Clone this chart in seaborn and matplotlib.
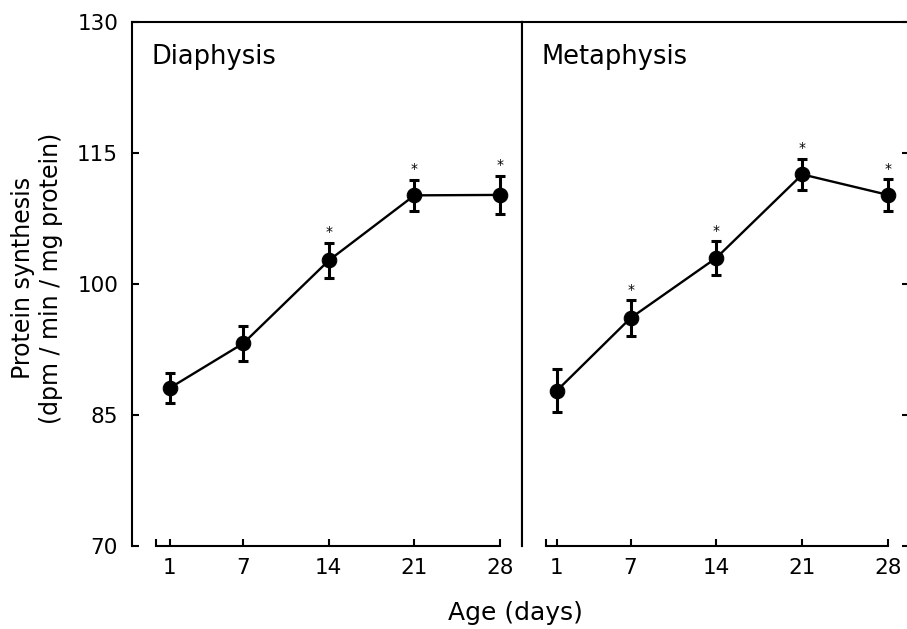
import numpy as np
import matplotlib
matplotlib.use('Agg')
import matplotlib.pyplot as plt
import seaborn as sns

# Data
days = [1, 7, 14, 21, 28]

dia_mean = [88.1, 93.2, 102.7, 110.15, 110.2]
dia_err = [1.75, 2.0, 2.05, 1.8, 2.2]
dia_star = [False, False, True, True, True]

met_mean = [87.8, 96.1, 103.0, 112.55, 110.2]
met_err = [2.45, 2.05, 1.95, 1.8, 1.8]
met_star = [False, True, True, True, True]

panels = ['Diaphysis', 'Metaphysis']
y_ticks = [70, 85, 100, 115, 130]

sns.set_style('ticks')
plt.rcParams['font.family'] = ['DejaVu Sans']
plt.rcParams.update({
    'text.color': 'black', 'axes.labelcolor': 'black',
    'xtick.color': 'black', 'ytick.color': 'black',
    'xtick.direction': 'in', 'ytick.direction': 'in',
    'xtick.bottom': True, 'ytick.left': True,
})

fig = plt.figure(figsize=(9.07, 6.29), dpi=100)

# axes placed by pixel coords of the reference (907 x 629)
W, H = 907, 629
ax1 = fig.add_axes([132 / W, (H - 546) / H, 390 / W, 524 / H])
ax2 = fig.add_axes([522 / W, (H - 546) / H, 387 / W, 524 / H])

setups = [
    (ax1, dia_mean, dia_err, dia_star, panels[0], (-2.1, 29.8), (-0.15, 28)),
    (ax2, met_mean, met_err, met_star, panels[1], (-1.85, 29.7), (0.1, 28)),
]

for ax, mean, err, star, name, xl, xb in setups:
    sns.lineplot(x=days, y=mean, ax=ax, color='black', linewidth=1.7,
                 marker='o', markersize=10.5, markeredgecolor='black')
    ax.errorbar(days, mean, yerr=err, fmt='none', ecolor='black',
                elinewidth=2.2, capsize=3.5, capthick=2.2)
    for d, m, e, s in zip(days, mean, err, star):
        if s:
            ax.annotate('*', xy=(d, m + e), xytext=(0, 4.5), textcoords='offset points',
                        ha='center', va='baseline', fontsize=10)

    ax.set_xlim(*xl)
    ax.set_ylim(70, 130)
    ax.set_xticks(days)
    ax.set_xticklabels([str(d) for d in days])
    ax.set_xticks([xb[0]], minor=True)
    ax.spines['bottom'].set_bounds(*xb)
    for sp in ax.spines.values():
        sp.set_visible(True)
        sp.set_linewidth(1.5)
        sp.set_color('black')
    ax.tick_params(axis='x', which='major', direction='in', length=5, width=1.5,
                   labelsize=15.5, pad=9, bottom=True, top=False)
    ax.tick_params(axis='x', which='minor', direction='in', length=5, width=1.5,
                   bottom=True, top=False)
    ax.text(20 / 390, (546 - 64) / 524, name, transform=ax.transAxes,
            fontsize=18.5, ha='left', va='baseline')
    ax.grid(False)

# left panel: y ticks on the left spine, only the 70 tick on the divider
ax1.set_yticks(y_ticks)
ax1.set_yticklabels([str(v) for v in y_ticks])
ax1.tick_params(axis='y', which='major', direction='in', length=5, width=1.5,
                labelsize=15.5, pad=10, left=True, right=False)
ax1.set_yticks([70], minor=True)
ax1.tick_params(axis='y', which='minor', direction='in', length=5, width=1.5,
                left=False, right=True)

# right panel: ticks on the far (clipped) right spine
ax2.set_yticks(y_ticks)
ax2.set_yticklabels([])
ax2.tick_params(axis='y', which='major', direction='in', length=5, width=1.5,
                left=False, right=True, labelleft=False)
ax2.set_yticks([70], minor=True)
ax2.tick_params(axis='y', which='minor', direction='in', length=5, width=1.5,
                left=True, right=False)

fig.text(37 / W, (H - 278) / H, 'Protein synthesis\n(dpm / min / mg protein)',
         rotation=90, ha='center', va='center', fontsize=17, linespacing=1.2)
fig.text(515 / W, (H - 613) / H, 'Age (days)', ha='center', va='center', fontsize=18)

fig.savefig('out.png', dpi=100)
